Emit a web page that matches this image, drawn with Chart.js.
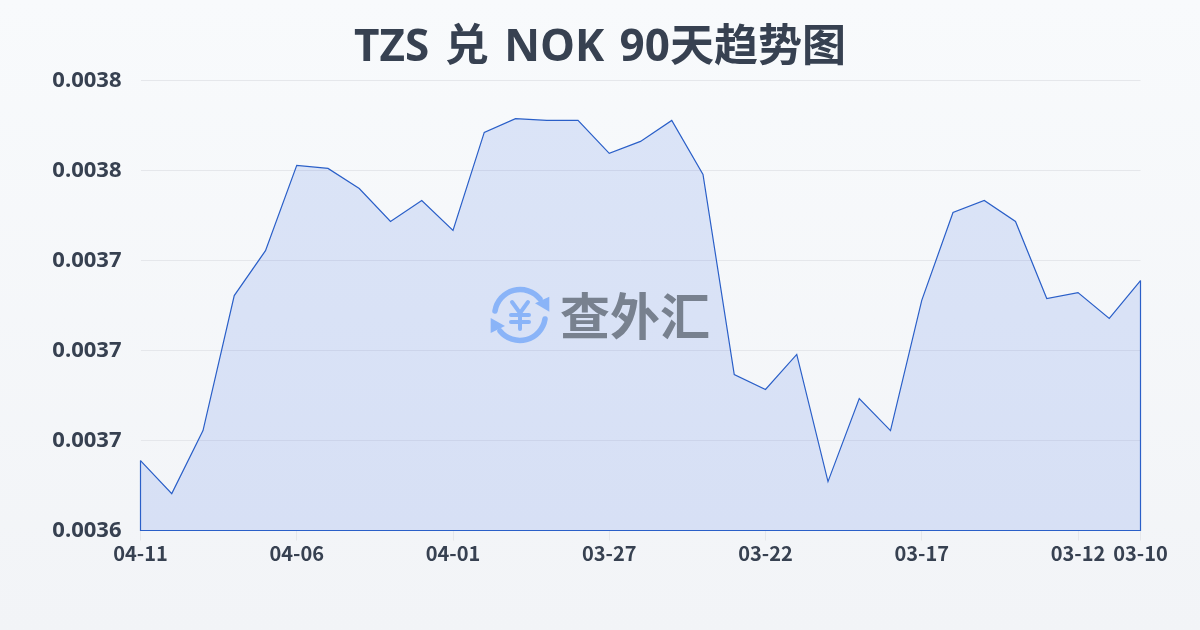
<!DOCTYPE html>
<html lang="zh">
<head>
<meta charset="utf-8">
<title>TZS 兑 NOK 90天趋势图</title>
<script src="https://cdn.jsdelivr.net/npm/chart.js@4"></script>
<style>
  html, body { margin: 0; padding: 0; }
  body {
    width: 1200px; height: 630px; overflow: hidden; position: relative;
    background: linear-gradient(180deg, #f8fafc 0%, #f2f4f7 100%);
  }
  #chart { position: absolute; left: 0; top: 0; }
  h1 {
    position: absolute; left: 0; top: 13px; width: 1200px; margin: 0; text-align: center;
    font: 700 44px/62px "Open Sans", "Noto Sans CJK SC", sans-serif; word-spacing: 4px; color: #374151;
  }
  #mark { position: absolute; left: 490px; top: 285px; width: 240px; height: 60px; pointer-events: none; }
  #mark svg { position: absolute; left: 0; top: 0; }
  #mark span {
    position: absolute; left: 70px; top: -2px; white-space: nowrap;
    font: 700 50px/60px "Noto Sans CJK SC", sans-serif; color: #78818f;
  }
</style>
</head>
<body>
<canvas id="chart" width="1200" height="630"></canvas>
<h1>TZS 兑 NOK 90天趋势图</h1>
<div id="mark">
  <svg width="60" height="60" viewBox="0 0 60 60" fill="none" stroke="#8ab4f8" stroke-width="5.5" stroke-linecap="round">
    <path d="M5 26 A25.5 25.5 0 0 1 50 14"/>
    <path d="M55 34 A25.5 25.5 0 0 1 10 46"/>
    <path d="M59.3 11.7 L59.3 26.7 L45 18.3 Z" fill="#8ab4f8" stroke="none"/>
    <path d="M0.7 48 L0.7 33 L15 41 Z" fill="#8ab4f8" stroke="none"/>
    <path d="M22 17 L30 28 L38 17 M30 28 L30 44 M21 30 L39 30 M21 37 L39 37" stroke-width="4"/>
  </svg>
  <span>查外汇</span>
</div>
<script>
const dates = [
  '04-11','04-10','04-09','04-08','04-07','04-06','04-05','04-04','04-03','04-02','04-01',
  '03-31','03-30','03-29','03-28','03-27','03-26','03-25','03-24','03-23','03-22',
  '03-21','03-20','03-19','03-18','03-17','03-16','03-15','03-14','03-13','03-12','03-11','03-10'
];

const rates = [
  0.0036633, 0.0036523, 0.0036733, 0.0037183, 0.0037333, 0.0037617, 0.0037607, 0.0037540, 0.0037430, 0.0037500, 0.0037400,
  0.0037727, 0.0037773, 0.0037767, 0.0037767, 0.0037657, 0.0037697, 0.0037767, 0.0037587, 0.0036920, 0.0036870,
  0.0036987, 0.0036563, 0.0036840, 0.0036733, 0.0037167, 0.0037460, 0.0037500, 0.0037430, 0.0037173, 0.0037193, 0.0037107, 0.0037233
];

const yMin = 0.00364;
const yMax = 0.00379;
const yStep = 0.00003;
const xLabelEvery = 5;

const lineColor = '#2a5fc8';
const textColor = '#374151';

// closes the area: left edge, baseline, right edge
const areaOutline = {
  id: 'areaOutline',
  afterDatasetsDraw(chart) {
    const x = chart.scales.x, y = chart.scales.y, ctx = chart.ctx;
    const last = dates.length - 1;
    ctx.save();
    ctx.strokeStyle = lineColor;
    ctx.lineWidth = 1.2;
    ctx.beginPath();
    ctx.moveTo(x.getPixelForValue(0), y.getPixelForValue(rates[0]));
    ctx.lineTo(x.getPixelForValue(0), y.bottom);
    ctx.lineTo(x.getPixelForValue(last), y.bottom);
    ctx.lineTo(x.getPixelForValue(last), y.getPixelForValue(rates[last]));
    ctx.stroke();
    ctx.restore();
  }
};

new Chart(document.getElementById('chart').getContext('2d'), {
  type: 'line',
  plugins: [areaOutline],
  data: {
    labels: dates,
    datasets: [{
      data: rates,
      borderColor: lineColor,
      borderWidth: 1.2,
      backgroundColor: 'rgba(59,110,225,0.15)',
      fill: 'start',
      tension: 0,
      pointRadius: 0
    }]
  },
  options: {
    responsive: false,
    animation: false,
    layout: { padding: { top: 80.5, left: 0, right: 59.5, bottom: 0 } },
    plugins: {
      legend: { display: false },
      tooltip: { enabled: false }
    },
    scales: {
      x: {
        offset: false,
        afterFit: (scale) => { scale.height = 99.5; },
        grid: { drawOnChartArea: false, color: '#e5e7eb', tickLength: 10 },
        border: { display: false },
        ticks: {
          autoSkip: false,
          maxRotation: 0,
          padding: 1,
          color: textColor,
          font: { family: '"Noto Sans CJK SC", sans-serif', size: 20, weight: '700' },
          callback(value, i) {
            return (i % xLabelEvery === 0 || i === dates.length - 1) ? dates[i] : null;
          }
        }
      },
      y: {
        min: yMin,
        max: yMax,
        afterFit: (scale) => { scale.width = 140.5; },
        grid: { color: '#e5e7eb', drawTicks: false },
        border: { display: false },
        ticks: {
          stepSize: yStep,
          padding: 19,
          color: textColor,
          font: { family: '"Open Sans", sans-serif', size: 22, weight: '700' },
          callback: (v) => v.toFixed(4)
        }
      }
    }
  }
});
</script>
</body>
</html>
